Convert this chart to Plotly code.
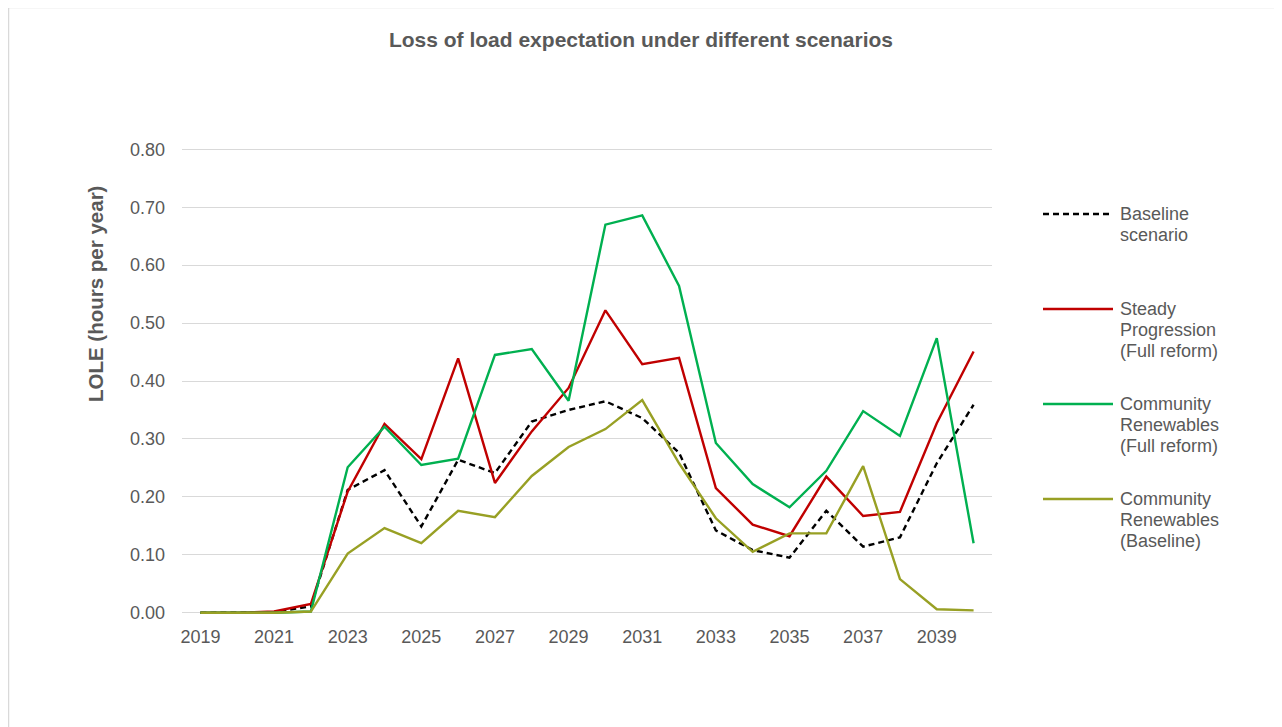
import plotly.graph_objects as go

years = list(range(2019, 2041))

baseline = [0.000, 0.000, 0.001, 0.011, 0.212, 0.246, 0.149, 0.264, 0.241, 0.330, 0.350,
            0.365, 0.336, 0.276, 0.142, 0.108, 0.095, 0.176, 0.114, 0.130, 0.258, 0.359]
steady_full = [0.000, 0.000, 0.002, 0.015, 0.209, 0.326, 0.265, 0.439, 0.224, 0.313, 0.388,
               0.522, 0.429, 0.440, 0.215, 0.152, 0.132, 0.235, 0.167, 0.174, 0.327, 0.451]
community_full = [0.000, 0.000, 0.000, 0.002, 0.251, 0.321, 0.255, 0.266, 0.445, 0.455, 0.366,
                  0.670, 0.686, 0.564, 0.293, 0.222, 0.182, 0.245, 0.348, 0.305, 0.474, 0.120]
community_base = [0.000, 0.000, 0.000, 0.002, 0.102, 0.146, 0.120, 0.176, 0.165, 0.236, 0.286,
                  0.317, 0.367, 0.258, 0.163, 0.105, 0.137, 0.137, 0.253, 0.058, 0.006, 0.004]

series_names = [['Baseline', 'scenario'],
                ['Steady', 'Progression', '(Full reform)'],
                ['Community', 'Renewables', '(Full reform)'],
                ['Community', 'Renewables', '(Baseline)']]
series_values = [baseline, steady_full, community_full, community_base]
series_colors = ['#000000', '#C00000', '#00B050', '#98A024']
series_dash = ['6px,4px', 'solid', 'solid', 'solid']

tick_years = list(range(2019, 2041, 2))
y_ticks = [i / 10 for i in range(0, 9)]

FONT = 'Liberation Sans, Arial, sans-serif'
TEXT = '#595959'
OFF = 8  # page body margin
W, H = 1274, 719
ML, MR, MT, MB = 174, 290, 139, 112


def px(x, y):
    # page pixel -> paper coords
    x, y = x - OFF, y - OFF
    return (x - ML) / (W - ML - MR), (H - MB - y) / (H - MT - MB)


fig = go.Figure()

for lines, vals, col, dash in zip(series_names, series_values, series_colors, series_dash):
    fig.add_trace(go.Scatter(
        x=years, y=vals, mode='lines', name=' '.join(lines),
        line=dict(color=col, width=2.4, dash=dash),
        showlegend=False,
    ))

# legend drawn by hand to get the long Excel-style samples
legend_rows = [214, 309, 404, 499]
for lines, col, dash, ly in zip(series_names, series_colors, series_dash, legend_rows):
    x0, y0 = px(1043, ly)
    x1, _ = px(1113, ly)
    fig.add_shape(type='line', xref='paper', yref='paper', x0=x0, x1=x1, y0=y0, y1=y0,
                  line=dict(color=col, width=2.4, dash=dash))
    for i, txt in enumerate(lines):
        tx, ty = px(1118, ly + 21 * i)
        fig.add_annotation(text=txt, xref='paper', yref='paper', x=tx, y=ty,
                           xanchor='left', yanchor='middle', align='left', showarrow=False,
                           font=dict(family=FONT, size=18, color=TEXT))

# outer chart border
bx0, by0 = px(8.5, 760)
bx1, by1 = px(1277, 7.5)
fig.add_shape(type='rect', xref='paper', yref='paper', x0=bx0, x1=bx1, y0=by0, y1=by1,
              line=dict(color='#D9D9D9', width=1.5), layer='below')

# y-axis title
ax, ay = px(95, 294)
fig.add_annotation(text='<b>LOLE (hours per year)</b>', xref='paper', yref='paper',
                   x=ax, y=ay, xanchor='center', yanchor='middle', textangle=-90,
                   showarrow=False, font=dict(family=FONT, size=20.5, color=TEXT))

fig.update_layout(
    width=W, height=H,
    margin=dict(l=ML, r=MR, t=MT, b=MB),
    paper_bgcolor='white', plot_bgcolor='white',
    title=dict(text='<b>Loss of load expectation under different scenarios</b>',
               x=(641 - OFF) / W, xref='container', xanchor='center',
               y=1 - (40 - OFF) / H, yref='container', yanchor='middle',
               font=dict(family=FONT, size=21, color=TEXT)),
    font=dict(family=FONT, color=TEXT),
)

fig.update_xaxes(range=[2018.5, 2040.5], tickvals=tick_years, ticks='',
                 showgrid=False, zeroline=False, showline=False,
                 tickfont=dict(size=18, color=TEXT), ticklabelstandoff=9)
fig.update_yaxes(range=[-0.004, 0.804], tickvals=y_ticks, tickformat='.2f',
                 showgrid=True, gridcolor='#D9D9D9', gridwidth=1.3,
                 zeroline=False, showline=False, ticks='',
                 tickfont=dict(size=18, color=TEXT), ticklabelstandoff=16)

fig.write_html('out.html')
